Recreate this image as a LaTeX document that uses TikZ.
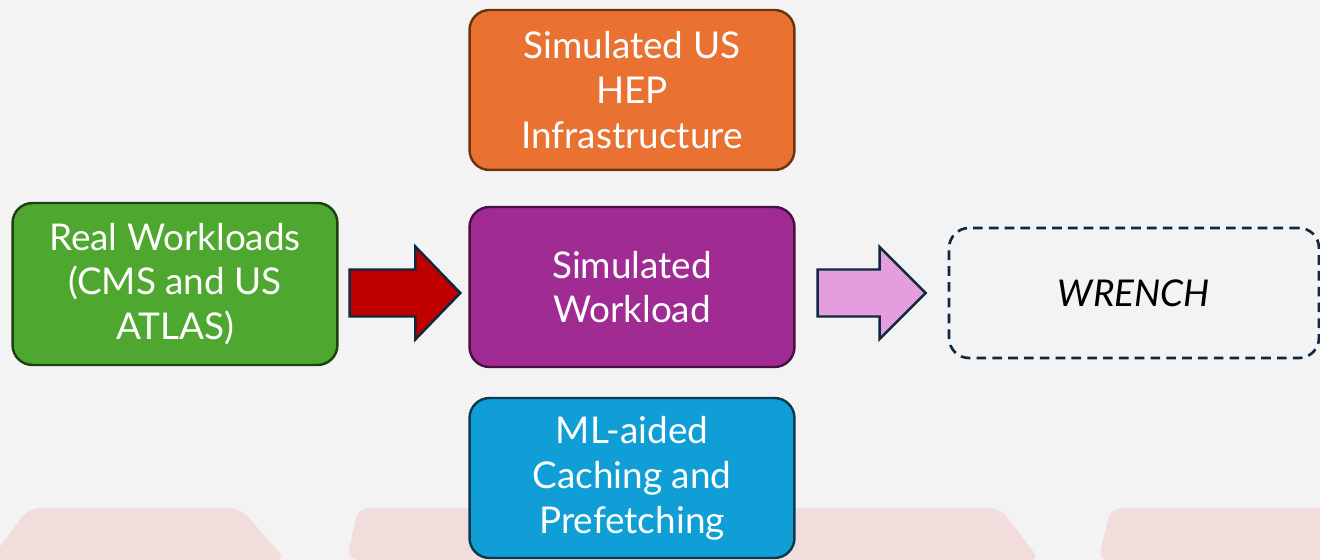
\documentclass[tikz,border=0pt]{standalone}
\usepackage{fontspec}
\setmainfont{Lato}
\usetikzlibrary{calc}

\definecolor{bgcol}{HTML}{F3F3F3}
\definecolor{bgpink}{HTML}{F2DCDC}
\definecolor{navy}{HTML}{0E2841}
\definecolor{infrafill}{HTML}{E97132}
\definecolor{infradraw}{HTML}{6B3410}
\definecolor{simfill}{HTML}{A02B93}
\definecolor{simdraw}{HTML}{4A1043}
\definecolor{mlfill}{HTML}{0F9ED5}
\definecolor{mldraw}{HTML}{0B3A52}
\definecolor{realfill}{HTML}{4EA72E}
\definecolor{realdraw}{HTML}{1D4210}
\definecolor{redarrow}{HTML}{C00000}
\definecolor{pinkarrow}{HTML}{E59EDD}

\begin{document}
\begin{tikzpicture}[
    x=0.02cm, y=-0.02cm,
    block/.style={draw, rounded corners=0.4cm, line width=1.4pt,
                  minimum width=6.5cm, minimum height=3.2cm, text=white,
                  align=center, font=\fontsize{21}{25.5}\selectfont},
    target/.style={draw=navy, dashed, dash pattern=on 5.5pt off 3.5pt,
                   rounded corners=0.4cm, line width=1.5pt,
                   minimum width=7.4cm, minimum height=2.6cm,
                   font=\fontsize{21}{25.5}\selectfont\itshape},
    bigarrow/.style={draw=navy, line width=1.4pt, line join=miter},
  ]
    % background
    \useasboundingbox (0,0) rectangle (1320,560);
    \fill[bgcol] (0,0) rectangle (1320,560);
    \fill[bgpink, rounded corners=6] (-10,560) -- (29,508) -- (240,508) -- (286,560) -- cycle;
    \fill[bgpink, rounded corners=6] (347,560) -- (358,508) -- (1000,508) -- (1040,560) -- cycle;
    \fill[bgpink, rounded corners=6] (1098,560) -- (1111,508) -- (1340,508) -- (1340,560) -- cycle;

    % boxes
    \node[block, fill=realfill, draw=realdraw, minimum height=3.24cm] (real) at (175,284)
        {Real Workloads\\(CMS and US\\ATLAS)};
    \node[block, fill=infrafill, draw=infradraw] (infra) at (632,90)
        {Simulated US\\HEP\\Infrastructure};
    \node[block, fill=simfill, draw=simdraw] (sim) at (632,287)
        {Simulated\\Workload};
    \node[block, fill=mlfill, draw=mldraw] (ml) at (632,478)
        {ML-aided\\Caching and\\Prefetching};
    \node[target] (wrench) at (1134,293) {WRENCH};

    % block arrows
    \coordinate (a0) at ($(real.east |- 0,293)+(11,0)$);
    \coordinate (a1) at ($(sim.west |- 0,293)+(-8,0)$);
    \draw[bigarrow, fill=redarrow] ($(a0)+(0,-23.5)$) -- ($(a1)+(-45,-23.5)$)
        -- ($(a1)+(-45,-46.5)$) -- (a1) -- ($(a1)+(-45,46.5)$)
        -- ($(a1)+(-45,23.5)$) -- ($(a0)+(0,23.5)$) -- cycle;
    \coordinate (b0) at ($(sim.east |- 0,293)+(22,0)$);
    \coordinate (b1) at ($(wrench.west)+(-22,0)$);
    \draw[bigarrow, fill=pinkarrow] ($(b0)+(0,-23.5)$) -- ($(b1)+(-46,-23.5)$)
        -- ($(b1)+(-46,-46)$) -- (b1) -- ($(b1)+(-46,46)$)
        -- ($(b1)+(-46,23.5)$) -- ($(b0)+(0,23.5)$) -- cycle;
  \end{tikzpicture}
\end{document}
